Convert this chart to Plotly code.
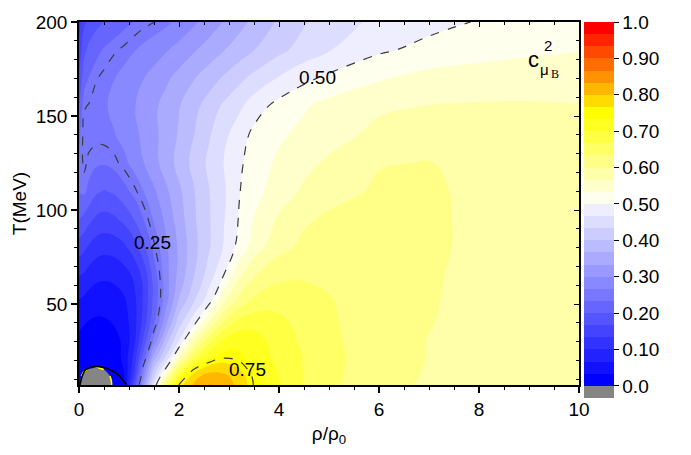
import plotly.graph_objects as go

# Grid of baryon density (in units of rho_0) and temperature (MeV)
rho = [0, 0.1, 0.2, 0.35, 0.5, 0.7, 0.9, 1.1, 1.3, 1.5, 1.75, 2.0, 2.3, 2.6,
       2.9, 3.2, 3.5, 4.0, 4.5, 5.0, 6.0, 7.0, 8.0, 9.0, 10.0]
temp = [7, 11, 16, 22, 30, 40, 52, 65, 80, 95, 110, 125, 140, 155, 170, 185, 200]

# squared speed of sound c^2_{mu_B}; one row per temperature
cs2 = [
    [0.005, -0.02, -0.035, -0.04, -0.025, 0.008, 0.03, 0.17, 0.33, 0.47, 0.64, 0.752, 0.805, 0.835, 0.82, 0.79, 0.748, 0.70, 0.665, 0.64, 0.61, 0.595, 0.59, 0.588, 0.585],
    [0.008, -0.012, -0.028, -0.032, -0.018, 0.01, 0.03, 0.14, 0.30, 0.43, 0.58, 0.72, 0.79, 0.82, 0.81, 0.785, 0.745, 0.70, 0.666, 0.642, 0.612, 0.597, 0.59, 0.588, 0.586],
    [0.012, 0.008, 0.003, -0.002, 0.004, 0.015, 0.035, 0.12, 0.27, 0.40, 0.505, 0.64, 0.745, 0.78, 0.785, 0.765, 0.735, 0.695, 0.665, 0.642, 0.613, 0.598, 0.591, 0.589, 0.587],
    [0.015, 0.015, 0.014, 0.013, 0.015, 0.02, 0.04, 0.11, 0.22, 0.35, 0.44, 0.55, 0.66, 0.72, 0.745, 0.74, 0.72, 0.69, 0.665, 0.643, 0.614, 0.599, 0.592, 0.59, 0.588],
    [0.025, 0.022, 0.02, 0.019, 0.02, 0.025, 0.038, 0.09, 0.18, 0.28, 0.39, 0.47, 0.58, 0.66, 0.71, 0.725, 0.715, 0.685, 0.66, 0.64, 0.615, 0.599, 0.592, 0.59, 0.589],
    [0.04, 0.035, 0.031, 0.028, 0.029, 0.035, 0.05, 0.085, 0.15, 0.23, 0.33, 0.42, 0.49, 0.57, 0.64, 0.68, 0.69, 0.675, 0.655, 0.638, 0.615, 0.601, 0.592, 0.59, 0.589],
    [0.065, 0.06, 0.052, 0.047, 0.046, 0.05, 0.062, 0.09, 0.14, 0.21, 0.29, 0.37, 0.43, 0.485, 0.56, 0.61, 0.64, 0.655, 0.645, 0.635, 0.618, 0.602, 0.593, 0.59, 0.59],
    [0.10, 0.095, 0.085, 0.075, 0.072, 0.075, 0.085, 0.105, 0.145, 0.215, 0.29, 0.345, 0.40, 0.45, 0.502, 0.56, 0.598, 0.625, 0.63, 0.628, 0.62, 0.603, 0.593, 0.59, 0.59],
    [0.15, 0.14, 0.128, 0.115, 0.11, 0.113, 0.125, 0.15, 0.19, 0.245, 0.295, 0.34, 0.39, 0.43, 0.47, 0.512, 0.55, 0.59, 0.608, 0.615, 0.616, 0.605, 0.594, 0.59, 0.59],
    [0.20, 0.19, 0.175, 0.16, 0.155, 0.16, 0.175, 0.20, 0.235, 0.27, 0.31, 0.35, 0.395, 0.43, 0.465, 0.502, 0.535, 0.572, 0.595, 0.606, 0.612, 0.605, 0.594, 0.59, 0.588],
    [0.235, 0.24, 0.225, 0.205, 0.198, 0.205, 0.222, 0.243, 0.268, 0.295, 0.328, 0.36, 0.398, 0.432, 0.462, 0.498, 0.522, 0.55, 0.572, 0.588, 0.605, 0.604, 0.594, 0.59, 0.585],
    [0.235, 0.255, 0.245, 0.238, 0.236, 0.243, 0.258, 0.278, 0.30, 0.322, 0.35, 0.378, 0.41, 0.44, 0.468, 0.494, 0.515, 0.54, 0.558, 0.572, 0.598, 0.601, 0.594, 0.588, 0.58],
    [0.225, 0.258, 0.258, 0.257, 0.258, 0.265, 0.277, 0.292, 0.308, 0.325, 0.348, 0.37, 0.40, 0.43, 0.458, 0.485, 0.508, 0.528, 0.542, 0.555, 0.575, 0.585, 0.585, 0.58, 0.575],
    [0.20, 0.248, 0.252, 0.257, 0.263, 0.273, 0.285, 0.298, 0.312, 0.327, 0.346, 0.365, 0.39, 0.415, 0.44, 0.46, 0.485, 0.512, 0.53, 0.545, 0.562, 0.568, 0.57, 0.57, 0.568],
    [0.17, 0.22, 0.235, 0.249, 0.256, 0.266, 0.277, 0.288, 0.30, 0.312, 0.328, 0.345, 0.365, 0.385, 0.405, 0.425, 0.443, 0.47, 0.492, 0.508, 0.53, 0.545, 0.55, 0.553, 0.555],
    [0.145, 0.19, 0.21, 0.225, 0.237, 0.247, 0.255, 0.265, 0.275, 0.285, 0.298, 0.312, 0.33, 0.348, 0.366, 0.383, 0.40, 0.425, 0.447, 0.465, 0.495, 0.51, 0.52, 0.527, 0.532],
    [0.12, 0.16, 0.175, 0.19, 0.20, 0.213, 0.225, 0.235, 0.243, 0.249, 0.26, 0.275, 0.295, 0.315, 0.335, 0.355, 0.375, 0.405, 0.43, 0.45, 0.475, 0.49, 0.502, 0.51, 0.518],
]

# boundary curve near the origin (solid black)
curve_rho = [0.02, 0.05, 0.12, 0.2, 0.35, 0.5, 0.69, 0.8, 0.88, 0.95]
curve_T = [7, 10.5, 14.7, 16.2, 16.8, 16.3, 14.2, 12.0, 9.6, 7.3]

# labelled contour levels
line_levels = [0.25, 0.50, 0.75]
level_labels = ["0.25", "0.50", "0.75"]
label_rho = [1.46, 4.76, 3.36]
label_T = [83.0, 170.5, 15.0]

# colour bar ticks
cbar_vals = [0.0, 0.1, 0.2, 0.3, 0.4, 0.5, 0.6, 0.7, 0.8, 0.9, 1.0]
cbar_text = ["0.0", "0.10", "0.20", "0.30", "0.40", "0.50", "0.60", "0.70", "0.80", "0.90", "1.0"]

# ---- discrete palette: one colour per 1/30 band, plus grey below zero ----
NB = 30
step = 1.0 / NB
gray = "#858585"
blues = ["#%02x%02xff" % (17 * k, 17 * k) for k in range(15)]
yellows = ["#ffff%02x" % round(238 * (7 - k) / 7) for k in range(8)]
oranges = ["#ff%02x00" % round(255 * (6 - k) / 7) for k in range(7)]
band_colors = [gray] + blues + yellows + oranges  # 31 bands

# contour fill samples the scale at j/30 for band j
fill_scale = []
for j, c in enumerate(band_colors):
    lo = max(0.0, (j - 0.5) / NB)
    hi = min(1.0, (j + 0.5) / NB)
    fill_scale += [[lo, c], [hi, c]]

# colour bar spans [-1/30, 1] with equal-width bands
bar_scale = []
nbands = len(band_colors)
for j, c in enumerate(band_colors):
    bar_scale += [[j / nbands, c], [(j + 1) / nbands, c]]
bar_scale[-1][0] = 1.0

FONT = "Liberation Sans, Arial, sans-serif"
SMOOTH = 1.3

fig = go.Figure()

fig.add_trace(go.Contour(
    x=rho, y=temp, z=cs2,
    colorscale=fill_scale, autocontour=False,
    contours=dict(start=0.0, end=0.98, size=step, coloring="fill", showlines=False),
    line=dict(width=0, smoothing=SMOOTH),
    showscale=False, hoverinfo="skip",
))

fig.add_trace(go.Contour(
    x=rho, y=temp, z=cs2, autocontour=False,
    contours=dict(start=line_levels[0], end=line_levels[-1], size=0.25, coloring="none"),
    line=dict(color="#3c3c3c", width=1.2, dash="dash", smoothing=SMOOTH),
    showscale=False, hoverinfo="skip",
))

fig.add_trace(go.Contour(
    x=rho, y=temp, z=cs2, autocontour=False,
    contours=dict(start=0.0, end=0.0, size=0.1, coloring="none"),
    line=dict(color="#ffff00", width=1.6, dash="dash", smoothing=SMOOTH),
    showscale=False, hoverinfo="skip",
))

fig.add_trace(go.Scatter(
    x=curve_rho, y=curve_T, mode="lines",
    line=dict(color="black", width=1.6, shape="spline"),
    showlegend=False, hoverinfo="skip",
))

# carrier for the colour bar (point lies outside the visible T range)
fig.add_trace(go.Scatter(
    x=[5], y=[-100], mode="markers", xaxis="x2", yaxis="y2",
    marker=dict(
        size=1, color=[0.5], colorscale=bar_scale, cmin=-step, cmax=1.0,
        showscale=True,
        colorbar=dict(
            x=1.01, xanchor="left", y=1.0, yanchor="top",
            thickness=30, thicknessmode="pixels",
            len=376, lenmode="pixels", xpad=0, ypad=0,
            outlinewidth=0,
            tickmode="array", tickvals=cbar_vals, ticktext=cbar_text,
            ticks="outside", ticklen=5, tickwidth=1.2, tickcolor="black",
            tickfont=dict(family=FONT, size=19, color="black"),
        ),
    ),
    showlegend=False, hoverinfo="skip",
))

for txt, xr, yt in zip(level_labels, label_rho, label_T):
    fig.add_annotation(x=xr, y=yt, xref="x", yref="y", text=txt, showarrow=False,
                       font=dict(family=FONT, size=19, color="black"))

# c^2_{mu_B} label
fig.add_annotation(x=9.08, y=180.0, text="c", showarrow=False,
                   font=dict(family=FONT, size=22, color="black"))
fig.add_annotation(x=9.37, y=187.5, text="2", showarrow=False,
                   font=dict(family=FONT, size=15, color="black"))
fig.add_annotation(x=9.31, y=174.5, text="μ", showarrow=False,
                   font=dict(family=FONT, size=15, color="black"))
fig.add_annotation(x=9.52, y=172.5, text="B", showarrow=False,
                   font=dict(family="Liberation Serif, serif", size=12, color="black"))

axis_common = dict(showgrid=False, zeroline=False, color="black")

fig.update_layout(
    width=691, height=455,
    margin=dict(l=79, r=112, t=12, b=70),
    paper_bgcolor="white", plot_bgcolor="white",
    font=dict(family=FONT, size=19, color="black"),
    showlegend=False,
    xaxis=dict(
        range=[0, 10], tick0=0, dtick=2, ticks="outside", ticklen=6, tickwidth=1.5,
        tickcolor="black",
        minor=dict(dtick=0.5, ticks="outside", ticklen=3, tickwidth=1.2, tickcolor="black"),
        showline=True, linewidth=1.6, linecolor="black", mirror=True,
        tickfont=dict(family=FONT, size=19),
        title=dict(text="ρ/ρ<sub>0</sub>", font=dict(family=FONT, size=19), standoff=8),
        **axis_common,
    ),
    yaxis=dict(
        range=[7, 200], tick0=0, dtick=50, ticks="outside", ticklen=6, tickwidth=1.5,
        tickcolor="black",
        minor=dict(dtick=10, ticks="outside", ticklen=3, tickwidth=1.2, tickcolor="black"),
        showline=True, linewidth=1.6, linecolor="black", mirror=True,
        tickfont=dict(family=FONT, size=19),
        title=dict(text="T(MeV)", font=dict(family=FONT, size=19), standoff=4),
        **axis_common,
    ),
    xaxis2=dict(
        overlaying="x", side="top", anchor="y", range=[0, 10], tick0=0, dtick=2,
        ticks="inside", ticklen=5, tickwidth=1.2, tickcolor="black",
        minor=dict(dtick=0.5, ticks="inside", ticklen=3, tickwidth=1, tickcolor="black"),
        showticklabels=False, showline=False, **axis_common,
    ),
    yaxis2=dict(
        overlaying="y", side="right", anchor="x", range=[7, 200], tick0=0, dtick=50,
        ticks="inside", ticklen=5, tickwidth=1.2, tickcolor="black",
        minor=dict(dtick=10, ticks="inside", ticklen=3, tickwidth=1, tickcolor="black"),
        showticklabels=False, showline=False, **axis_common,
    ),
)

fig.write_html("out.html")
